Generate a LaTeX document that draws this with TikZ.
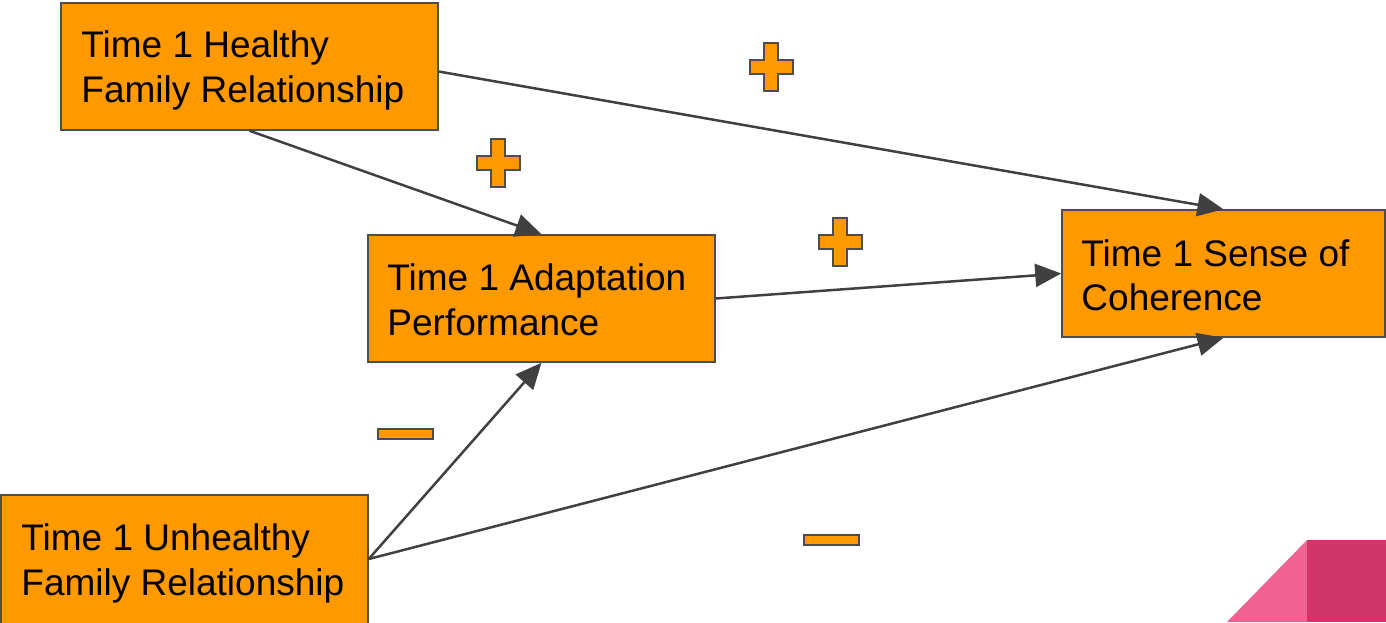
\documentclass[tikz,border=0pt]{standalone}
\usepackage{fontspec}
\setmainfont{Liberation Sans}
\usetikzlibrary{arrows.meta}
\definecolor{boxfill}{HTML}{FF9900}
\definecolor{boxline}{HTML}{4D4D4D}
\definecolor{arrowcol}{HTML}{404040}
\definecolor{pinklight}{HTML}{F06292}
\definecolor{pinkdark}{HTML}{D13469}
\tikzset{
  varbox/.style={draw=boxline, line width=1.5pt, fill=boxfill, rectangle, inner sep=0pt},
  vartext/.style={align=left, inner sep=0pt, font=\fontsize{37}{44.5}\selectfont},
  path arrow/.style={draw=arrowcol, line width=2.5pt, -{Triangle[length=26pt,width=23pt]}},
  signmark/.style={draw=boxline, line width=2pt, fill=boxfill, line join=miter}
}
\begin{document}
\begin{tikzpicture}[x=1pt,y=-1pt]
\useasboundingbox (0,0) rectangle (1386,622);
\clip (0,0) rectangle (1386,622);
% pink corner
\fill[pinklight] (1227,622) -- (1307,540) -- (1307,622) -- cycle;
\fill[pinkdark] (1307,540) rectangle (1386,622);
% boxes
\node[varbox, minimum width=377pt, minimum height=127pt] (h) at (249.5,66.5) {};
\node[varbox, minimum width=347pt, minimum height=127pt] (a) at (541.5,298.5) {};
\node[varbox, minimum width=323pt, minimum height=127pt] (s) at (1223.5,273.5) {};
\node[varbox, minimum width=367pt, minimum height=134pt] (u) at (184.5,562) {};
% texts
\node[vartext, anchor=west] (ht) at ([xshift=21pt,yshift=-4pt]h.west) {Time 1 Healthy\\Family Relationship};
\node[vartext, anchor=west] (at) at ([xshift=20pt,yshift=-1.5pt]a.west) {Time 1 Adaptation\\Performance};
\node[vartext, anchor=west] (st) at ([xshift=20pt,yshift=-2pt]s.west) {Time 1 Sense of\\Coherence};
\node[vartext, anchor=west] (ut) at ([xshift=21pt,yshift=-1.5pt]u.west) {Time 1 Unhealthy\\Family Relationship};
% arrows
\draw[path arrow] (h.south) -- (a.north);
\draw[path arrow] ([yshift=-5pt]h.east) -- (s.north);
\draw[path arrow] (a.east) -- (s.west);
\coordinate (uo) at ([yshift=3pt]u.east);
\draw[path arrow] (uo) -- (a.south);
\draw[path arrow] (uo) -- (s.south);
% plus signs
\foreach \p in {(771,67),(498,163),(840,242)}{
  \path[signmark, shift={\p}] (-7,-24) -- (7,-24) -- (7,-7) -- (21.5,-7) -- (21.5,7) -- (7,7) -- (7,24) -- (-7,24) -- (-7,7) -- (-21.5,7) -- (-21.5,-7) -- (-7,-7) -- cycle;
}
% minus signs
\foreach \p in {(405,434),(831,540)}{
  \path[signmark, shift={\p}] (-27.5,-5) rectangle (27.5,5);
}
\end{tikzpicture}
\end{document}
